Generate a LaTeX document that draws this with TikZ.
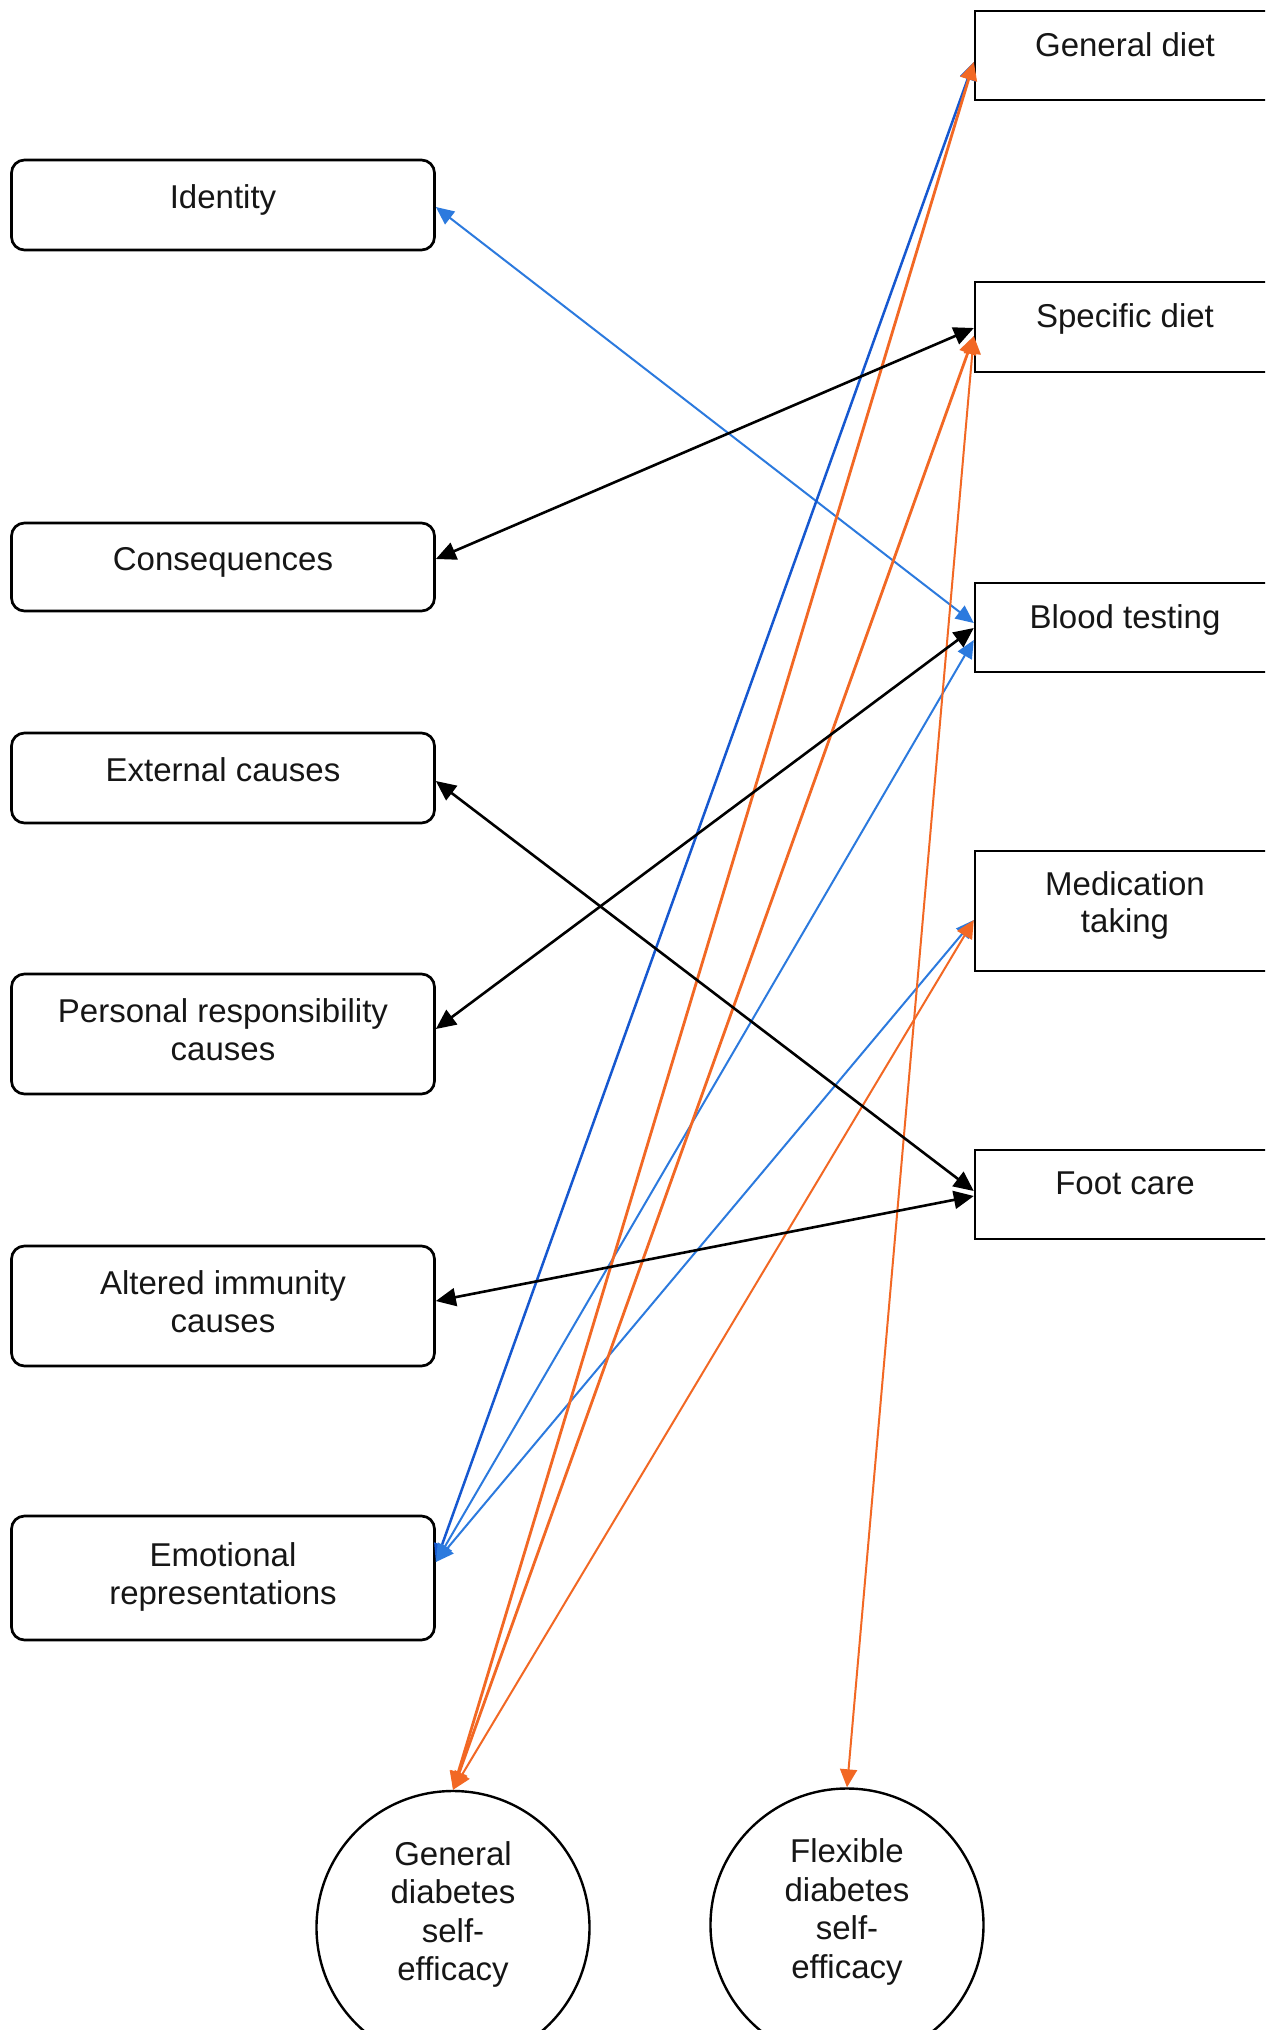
\documentclass[tikz,border=0pt]{standalone}
\usepackage{fontspec}
\setmainfont{Liberation Sans}
\usetikzlibrary{arrows.meta,calc}

\definecolor{linkorange}{RGB}{242,104,36}
\definecolor{linkblue}{RGB}{44,122,222}
\definecolor{deepblue}{RGB}{22,88,208}
\definecolor{inkgray}{RGB}{22,22,22}

% invisible depths that place the lines slightly above the box centres
\newcommand{\lsdepth}{\rule[-8.5pt]{0pt}{8.5pt}}
\newcommand{\lmdepth}{\rule[-4.5pt]{0pt}{4.5pt}}
\newcommand{\rsdepth}{\rule[-11pt]{0pt}{11pt}}
\newcommand{\rmdepth}{\rule[-9pt]{0pt}{9pt}}
\newcommand{\cxdepth}{\rule[-16.5pt]{0pt}{16.5pt}}

\begin{document}
\begin{tikzpicture}[x=0.5pt,y=-0.5pt,
  boxfont/.style={font=\fontsize{16.5pt}{18.75pt}\selectfont},
  leftbox/.style={draw=black, line width=1.35pt, rounded corners=6.5pt,
    minimum width=211.5pt, inner sep=0pt, align=center, text=inkgray, boxfont},
  rightbox/.style={draw=black, line width=1.2pt,
    minimum width=150pt, inner sep=0pt, align=center, text=inkgray, boxfont},
  selfeff/.style={draw=black, line width=1.2pt, circle, minimum size=136.5pt,
    inner sep=0pt, align=center, text=inkgray,
    font=\fontsize{16.5pt}{19.3pt}\selectfont},
  blklink/.style={draw=black, line width=1.3pt,
    {Triangle[length=10pt,width=9pt]}-{Triangle[length=10pt,width=9pt]}},
  bluelink/.style={draw=linkblue, line width=1pt,
    {Triangle[length=9pt,width=8pt]}-{Triangle[length=9pt,width=8pt]}},
  deepbluelink/.style={draw=deepblue, line width=1.25pt,
    {Triangle[length=9pt,width=8pt]}-{Triangle[length=9pt,width=8pt]}},
  orlink/.style={draw=linkorange, line width=1pt,
    {Triangle[length=9pt,width=8.5pt]}-{Triangle[length=9pt,width=8.5pt]}},
  orthick/.style={orlink, line width=1.4pt}
]
\fill[white] (0,0) rectangle (1265,2030);
\useasboundingbox (0,0) rectangle (1265,2030);
\clip (0,0) rectangle (1265,2030);

% illness representations (left column)
\node[leftbox, minimum height=45pt] (id)  at (223,205)  {Identity\lsdepth};
\node[leftbox, minimum height=44pt] (con) at (223,567)  {Consequences\lsdepth};
\node[leftbox, minimum height=45pt] (ext) at (223,778)  {External causes\lsdepth};
\node[leftbox, minimum height=60pt] (per) at (223,1034) {Personal responsibility\\causes\lmdepth};
\node[leftbox, minimum height=60pt] (alt) at (223,1306) {Altered immunity\\causes\lmdepth};
\node[leftbox, minimum height=62pt] (emo) at (223,1578) {Emotional\\representations\lmdepth};

% self-care behaviours (right column)
\node[rightbox, minimum height=44.5pt] (gd)  at (1125,55.5)  {General diet\rsdepth};
\node[rightbox, minimum height=45pt]   (sd)  at (1125,327)   {Specific diet\rsdepth};
\node[rightbox, minimum height=44.5pt] (bt)  at (1125,627.5) {Blood testing\rsdepth};
\node[rightbox, minimum height=60pt]   (med) at (1125,911)   {Medication\\taking\rmdepth};
\node[rightbox, minimum height=44.5pt] (fc)  at (1125,1194.5) {Foot care\rsdepth};

% self-efficacy
\node[selfeff] (gds) at (453,1927.5) {General\\diabetes\\self-\\efficacy\cxdepth};
\node[selfeff] (fds) at (847,1925)   {Flexible\\diabetes\\self-\\efficacy\cxdepth};

% blue links
\draw[bluelink] ($(id.east)+(0,2)$) -- ($(bt.west)+(0,-4.5)$);
\draw[deepbluelink] ($(emo.east)+(0,-16)$) -- ($(gd.west)+(0,6.5)$);
\draw[bluelink] ($(emo.east)+(0,-16)$) -- ($(bt.west)+(0,12.5)$);
\draw[bluelink] ($(emo.east)+(0,-16)$) -- ($(med.west)+(0,9)$);

% orange links
\draw[orthick] (gds.north) -- ($(gd.west)+(0,6.5)$);
\draw[orthick] (gds.north) -- ($(sd.west)+(0,9)$);
\draw[orlink] (gds.north) -- ($(med.west)+(0,9)$);
\draw[orlink] (fds.north) -- ($(sd.west)+(0,9)$);

% black links
\draw[blklink] ($(con.east)+(0,-8)$) -- ($(sd.west)+(0,1)$);
\draw[blklink] ($(ext.east)+(0,3)$) -- ($(fc.west)+(0,-3.5)$);
\draw[blklink] ($(per.east)+(0,-5)$) -- ($(bt.west)+(0,0.5)$);
\draw[blklink] ($(alt.east)+(0,-5)$) -- ($(fc.west)+(0,1.5)$);
\end{tikzpicture}
\end{document}
